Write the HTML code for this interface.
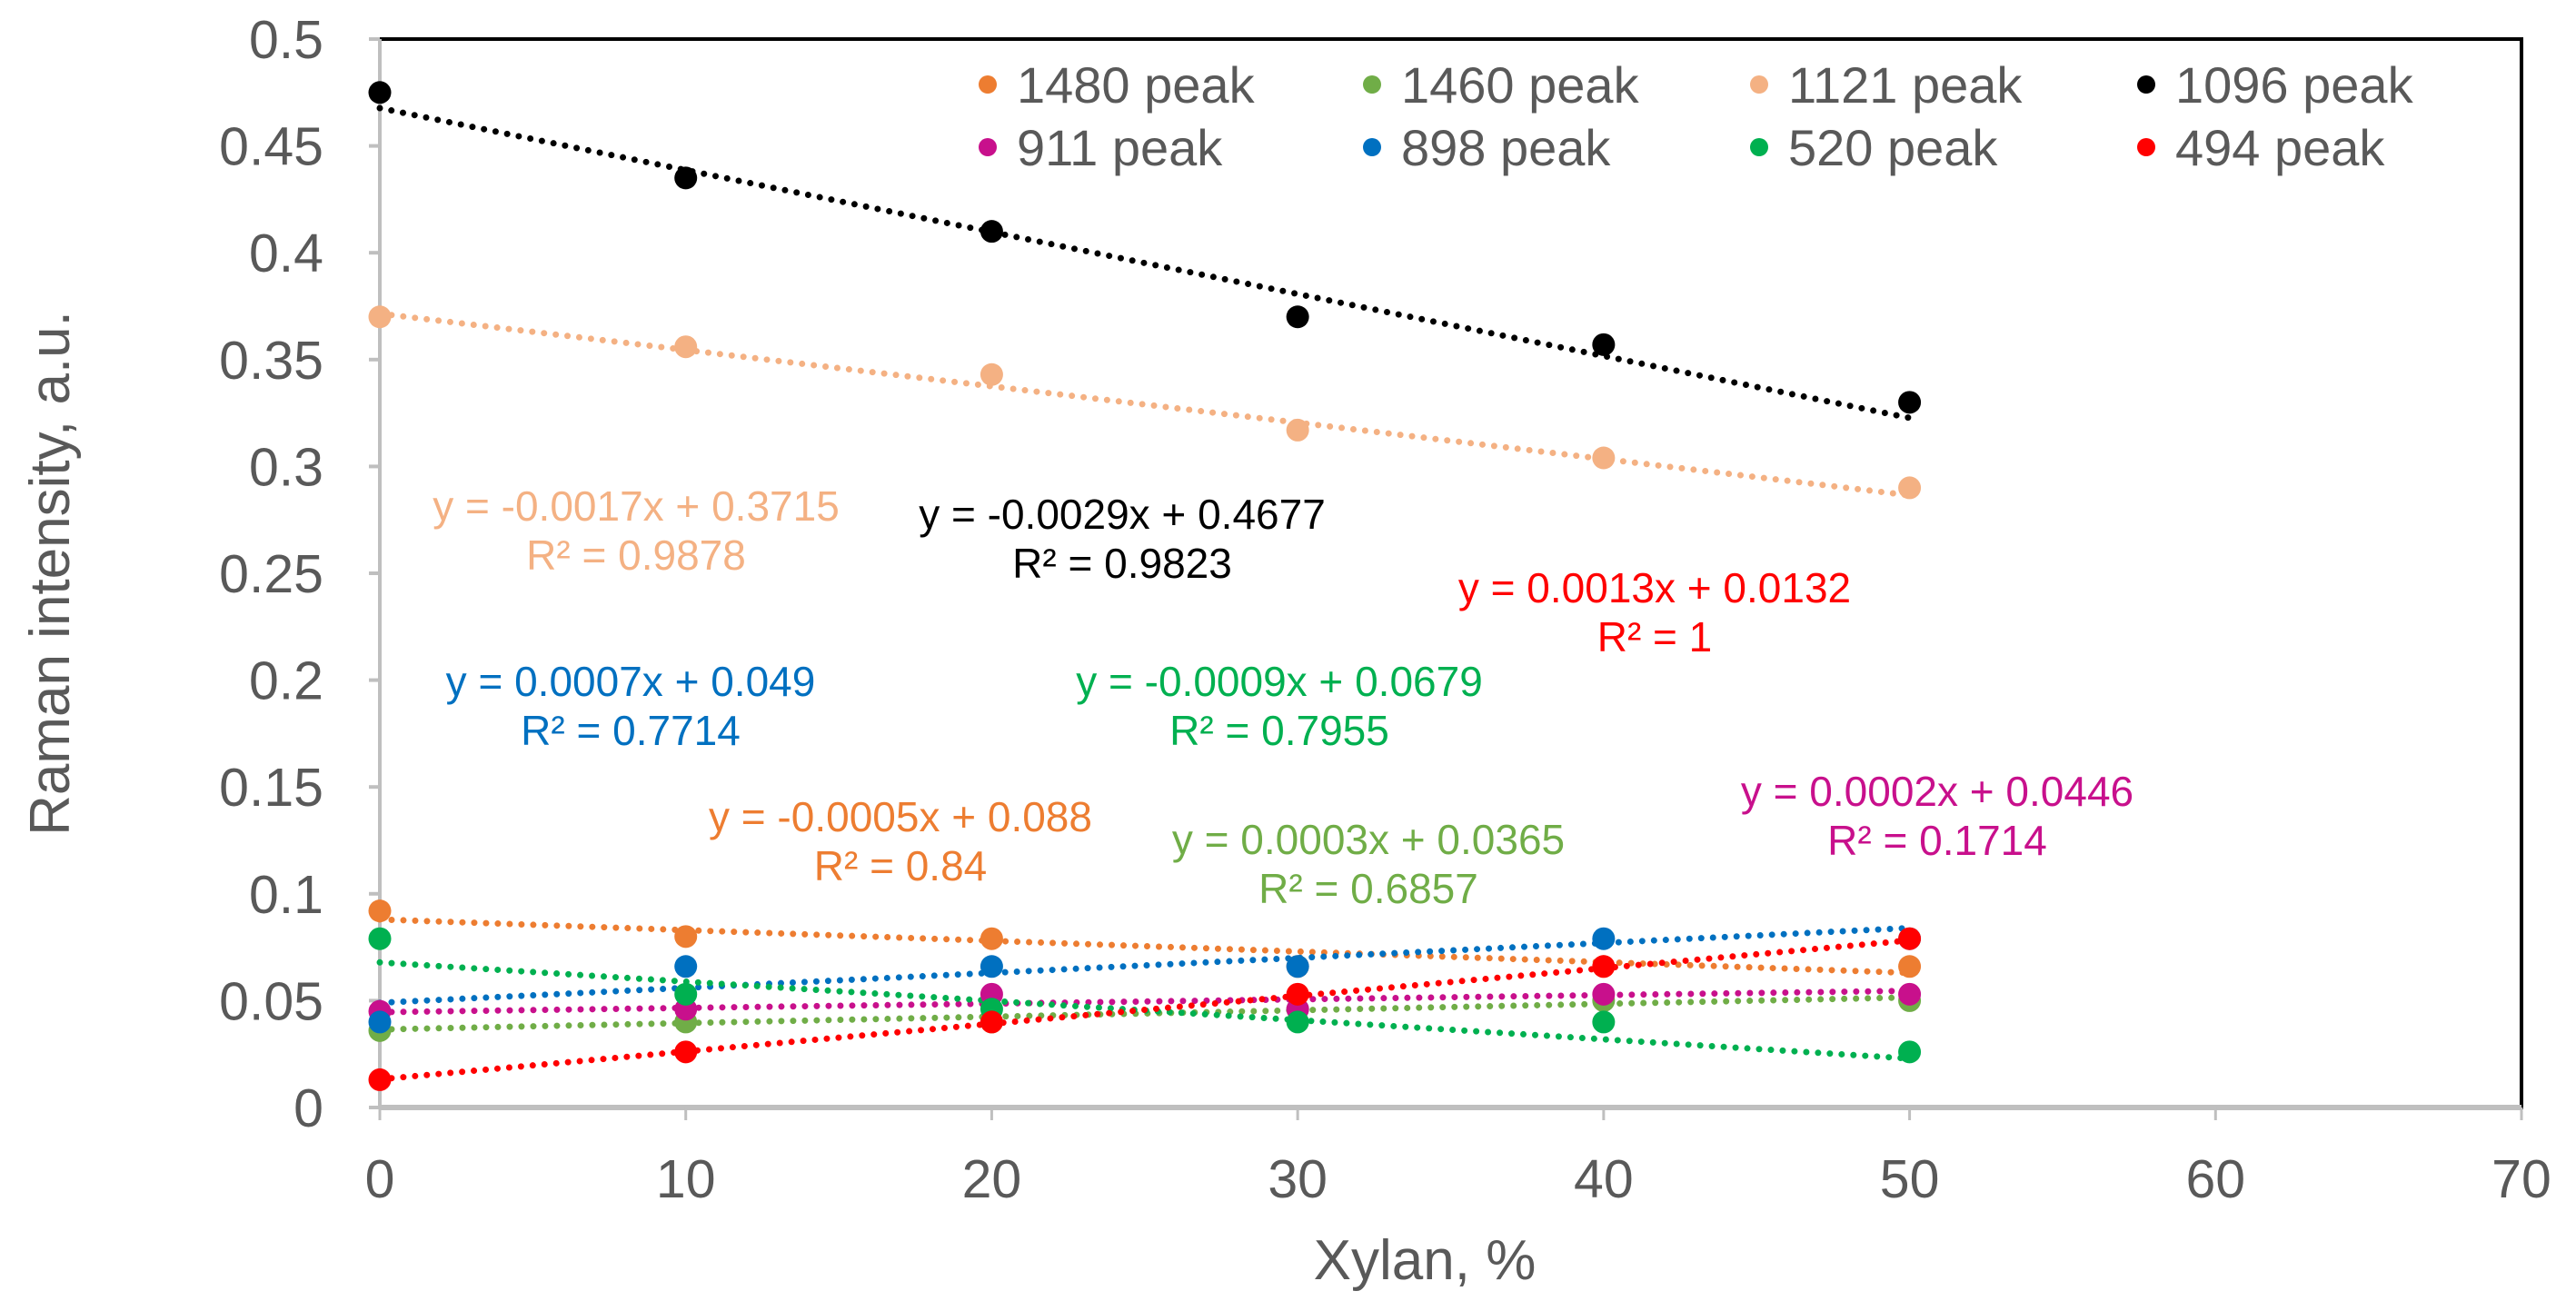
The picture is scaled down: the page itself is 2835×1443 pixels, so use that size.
<!DOCTYPE html>
<html><head><meta charset="utf-8">
<style>
html,body{margin:0;padding:0;background:#fff;}
svg{display:block;font-family:"Liberation Sans",Arial,sans-serif;}
</style></head>
<body>
<svg id="chart" width="2835" height="1443" viewBox="0 0 2835 1443" xmlns="http://www.w3.org/2000/svg"></svg>
<script>
const xValues = [0, 10, 20, 30, 40, 50];
const seriesNames = ["1480 peak","1460 peak","1121 peak","1096 peak","911 peak","898 peak","520 peak","494 peak"];
const seriesColors = ["#ED7D31","#70AD47","#F4B183","#000000","#C8108C","#0070C0","#00B050","#FF0000"];
const s1480 = [0.092, 0.080, 0.079, 0.066, 0.066, 0.066];
const s1460 = [0.036, 0.040, 0.040, 0.046, 0.050, 0.050];
const s1121 = [0.370, 0.356, 0.343, 0.317, 0.304, 0.290];
const s1096 = [0.475, 0.435, 0.410, 0.370, 0.357, 0.330];
const s911  = [0.045, 0.046, 0.053, 0.046, 0.053, 0.053];
const s898  = [0.040, 0.066, 0.066, 0.066, 0.079, 0.079];
const s520  = [0.079, 0.053, 0.046, 0.040, 0.040, 0.026];
const s494  = [0.013, 0.026, 0.040, 0.053, 0.066, 0.079];
const slopes = [-0.0005, 0.0003, -0.0017, -0.0029, 0.0002, 0.0007, -0.0009, 0.0013];
const intercepts = [0.088, 0.0365, 0.3715, 0.4677, 0.0446, 0.049, 0.0679, 0.0132];
const eqLabels = ["y = -0.0005x + 0.088","y = 0.0003x + 0.0365","y = -0.0017x + 0.3715","y = -0.0029x + 0.4677","y = 0.0002x + 0.0446","y = 0.0007x + 0.049","y = -0.0009x + 0.0679","y = 0.0013x + 0.0132"];
const r2Labels = ["R² = 0.84","R² = 0.6857","R² = 0.9878","R² = 0.9823","R² = 0.1714","R² = 0.7714","R² = 0.7955","R² = 1"];
const yTicks = [0,0.05,0.1,0.15,0.2,0.25,0.3,0.35,0.4,0.45,0.5];
const yTickLabels = ["0","0.05","0.1","0.15","0.2","0.25","0.3","0.35","0.4","0.45","0.5"];
const xTicks = [0,10,20,30,40,50,60,70];
const xTickLabels = ["0","10","20","30","40","50","60","70"];

const allSeries = [s1480,s1460,s1121,s1096,s911,s898,s520,s494];
const labelPos = [[991,899],[1506,924],[700,557],[1235,566],[2132,871],[694,750],[1408,750],[1821,647]];
const L=418,R=2775,T=43,B=1219;
const xs = v => L + (v-0)/(70-0)*(R-L);
const ys = v => B - (v-0)/(0.5-0)*(B-T);
const svg = document.getElementById('chart');
const NS='http://www.w3.org/2000/svg';
function mk(tag, attrs, parent){const e=document.createElementNS(NS,tag);for(const k in attrs)e.setAttribute(k,attrs[k]);(parent||svg).appendChild(e);return e;}

let f = mk('rect',{x:L,y:T,width:R-L,height:B-T,fill:'none',stroke:'#000','stroke-width':4});


let ya = mk('line',{x1:L,y1:T,x2:L,y2:B,stroke:'#BFBFBF','stroke-width':4});


let xa = mk('line',{x1:L,y1:B,x2:R,y2:B,stroke:'#BFBFBF','stroke-width':6});



yTicks.forEach((v,i)=>{
  let t = mk('line',{x1:L-12,y1:ys(v),x2:L,y2:ys(v),stroke:'#BFBFBF','stroke-width':4});
  
  
  let tx = mk('text',{x:L-62,y:ys(v)+21,'text-anchor':'end','font-size':59,fill:'#595959'});
  tx.textContent = yTickLabels[i];
  
  
});
xTicks.forEach((v,i)=>{
  let t = mk('line',{x1:xs(v),y1:B,x2:xs(v),y2:B+14,stroke:'#BFBFBF','stroke-width':3});
  
  
  let tx = mk('text',{x:xs(v),y:1318,'text-anchor':'middle','font-size':59,fill:'#595959'});
  tx.textContent = xTickLabels[i];
  
  
});
let xt = mk('text',{x:1568,y:1408,'text-anchor':'middle','font-size':62,fill:'#595959'});
xt.textContent='Xylan, %';


let yt = mk('text',{x:0,y:0,'text-anchor':'middle','font-size':62,fill:'#595959',transform:'translate(76,631) rotate(-90)'});
yt.textContent='Raman intensity, a.u.';



allSeries.forEach((s,i)=>{
  const x0=xValues[0], x1=xValues[xValues.length-1];
  let ln = mk('line',{x1:xs(x0),y1:ys(intercepts[i]+slopes[i]*x0),x2:xs(x1),y2:ys(intercepts[i]+slopes[i]*x1),stroke:seriesColors[i],'stroke-width':7,'stroke-dasharray':'0 13','stroke-linecap':'round'});
  
  
});
allSeries.forEach((s,i)=>{
  s.forEach((v,j)=>{
    let c = mk('circle',{cx:xs(xValues[j]),cy:ys(v),r:12.5,fill:seriesColors[i]});
    
    
  });
});
allSeries.forEach((s,i)=>{
  const [cx,cy]=labelPos[i];
  let a = mk('text',{x:cx,y:cy+16,'text-anchor':'middle','font-size':46,fill:seriesColors[i]});
  a.textContent=eqLabels[i];
  
  
  let b = mk('text',{x:cx,y:cy+70,'text-anchor':'middle','font-size':46,fill:seriesColors[i]});
  b.textContent=r2Labels[i];
  
  
});
const legX=[1087,1510,1936,2362], legY=[93,162];
seriesNames.forEach((n,i)=>{
  const x=legX[i%4], y=legY[Math.floor(i/4)];
  let c = mk('circle',{cx:x,cy:y,r:10,fill:seriesColors[i]});
  
  
  let t = mk('text',{x:x+32,y:y+20,'font-size':56,fill:'#595959'});
  t.textContent=n;
  
  
});
</script>
</body></html>
